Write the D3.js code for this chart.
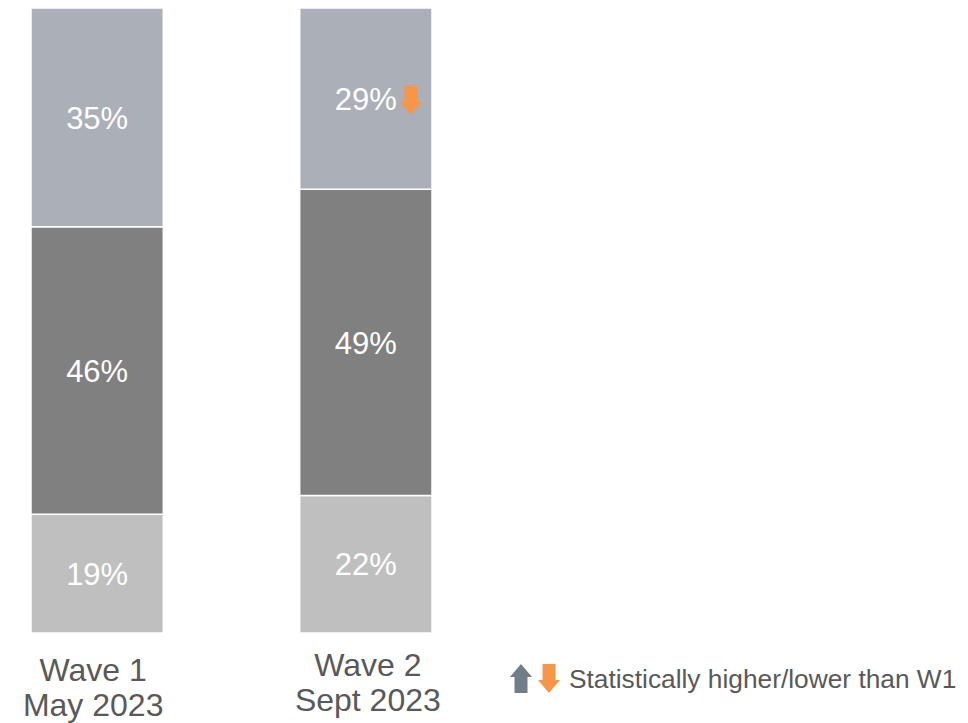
<!DOCTYPE html>
<html><head><meta charset="utf-8">
<script src="https://cdn.jsdelivr.net/npm/d3@7"></script>
<style>body{margin:0;background:#fff}svg{display:block}text{font-family:"Liberation Sans",Arial,sans-serif}</style>
</head><body><svg id="c" width="968" height="723"></svg>
<script>
const categories = ["Wave 1\nMay 2023", "Wave 2\nSept 2023"];
const seriesNames = ["bottom", "middle", "top"];
const bottomValues = [19, 22];
const middleValues = [46, 49];
const topValues = [35, 29];
const sigFlags = [[null, null, null], [null, null, "down"]]; // per category: bottom, middle, top
const legendText = "Statistically higher/lower than W1";

const colors = {bottom: "#BFBFBF", middle: "#808080", top: "#ABAFB8"};
const upColor = "#717E8A", downColor = "#F79646";

const svg = d3.select("#c");
const x = d3.scaleBand().domain(categories).range([31, 432]).paddingInner(0.5075).paddingOuter(0);
const y = d3.scaleLinear().domain([0, 100]).range([633, 8]);

const rows = categories.map((c, i) => ({cat: c, bottom: bottomValues[i], middle: middleValues[i], top: topValues[i]}));
const stack = d3.stack().keys(seriesNames)(rows);

const g = svg.append("g");
stack.forEach((layer, li) => {
  layer.forEach((d, i) => {
    const x0 = x(d.data.cat), w = x.bandwidth();
    g.append("rect").attr("x", x0).attr("y", y(d[1])).attr("width", w).attr("height", y(d[0]) - y(d[1]))
      .attr("fill", colors[layer.key]).attr("stroke", "#fff").attr("stroke-width", 1.5);
    const cy = (y(d[0]) + y(d[1])) / 2;
    const cx = x0 + w / 2;
    const t = g.append("text").attr("x", cx).attr("y", cy).attr("dy", "0.36em").attr("text-anchor", "middle")
      .attr("fill", "#fff").attr("font-size", 31).text(d.data[layer.key] + "%");
    const flag = sigFlags[i][li];
    if (flag) {
      const bb = t.node().getBBox();
      drawArrow(bb.x + bb.width + 3, cy - 13, flag);
    }
  });
});

function drawArrow(x0, yTop, dir) {
  const W = 22, H = 29, sw = 13, headH = 13;
  const cx = x0 + W / 2;
  let pts;
  if (dir === "down") {
    pts = [[cx - sw/2, yTop], [cx + sw/2, yTop], [cx + sw/2, yTop + H - headH], [x0 + W, yTop + H - headH],
           [cx, yTop + H], [x0, yTop + H - headH], [cx - sw/2, yTop + H - headH]];
  } else {
    pts = [[cx, yTop], [x0 + W, yTop + headH], [cx + sw/2, yTop + headH], [cx + sw/2, yTop + H],
           [cx - sw/2, yTop + H], [cx - sw/2, yTop + headH], [x0, yTop + headH]];
  }
  svg.append("path").attr("d", d3.line()(pts) + "Z").attr("fill", dir === "down" ? downColor : upColor);
}

// category labels
const labelTop = [681, 676];
const labelShift = [-4, 2];
categories.forEach((c, i) => {
  const lines = c.split("\n");
  const t = svg.append("text").attr("text-anchor", "middle").attr("fill", "#595959").attr("font-size", 32);
  lines.forEach((l, j) => {
    t.append("tspan").attr("x", x(c) + x.bandwidth() / 2 + labelShift[i]).attr("y", labelTop[i] + j * 35).text(l);
  });
});

// legend
drawArrow(510, 664, "up");
drawArrow(538, 664, "down");
svg.append("text").attr("x", 569).attr("y", 688).attr("fill", "#595959").attr("font-size", 26.3).text(legendText);
</script></body></html>
